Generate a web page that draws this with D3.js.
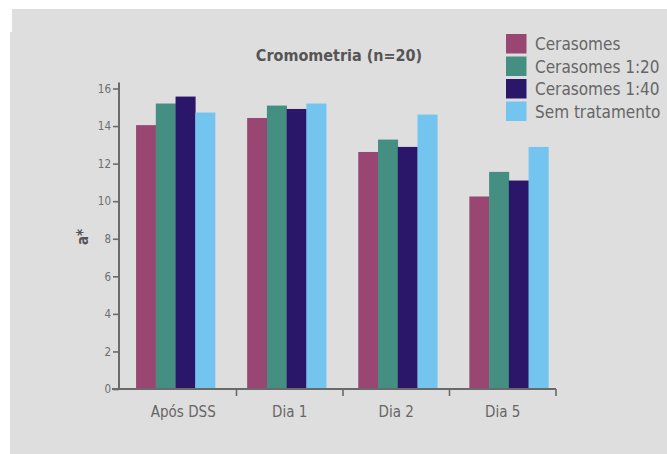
<!DOCTYPE html>
<html><head><meta charset="utf-8">
<script src="https://cdn.jsdelivr.net/npm/d3@7/dist/d3.min.js"></script>
<style>body{margin:0;background:#fff}svg{display:block}text{font-family:"DejaVu Sans Condensed","DejaVu Sans",sans-serif}</style>
</head><body>
<svg id="c" width="667" height="454"></svg>
<script>
const categories = ["Após DSS", "Dia 1", "Dia 2", "Dia 5"];
const seriesNames = ["Cerasomes", "Cerasomes 1:20", "Cerasomes 1:40", "Sem tratamento"];
const cerasomes = [14.05, 14.43, 12.62, 10.25];
const cerasomes120 = [15.2, 15.09, 13.28, 11.56];
const cerasomes140 = [15.57, 14.91, 12.89, 11.10];
const semTratamento = [14.72, 15.2, 14.61, 12.89];
const yTicks = [0, 2, 4, 6, 8, 10, 12, 14, 16];
const colors = ["#9a4673", "#448f82", "#2b1769", "#73c5f0"];
const series = [cerasomes, cerasomes120, cerasomes140, semTratamento];

const svg = d3.select("#c");
// background panel
svg.append("rect").attr("x", 12).attr("y", 9).attr("width", 655).attr("height", 30).attr("fill", "#dedede");
svg.append("rect").attr("x", 10).attr("y", 32).attr("width", 657).attr("height", 422).attr("fill", "#dedede");

const y = d3.scaleLinear().domain([0, 16]).range([389, 88.5]);
const xBars = d3.scaleBand().domain(categories).range([120, 564.4]).paddingInner(0.289).paddingOuter(0.1445);
const xSub = d3.scaleBand().domain(d3.range(seriesNames.length)).range([0, xBars.bandwidth()]);
const xAxisScale = d3.scaleBand().domain(categories).range([130, 556]);

// bars
const g = svg.append("g");
categories.forEach((c, i) => {
  series.forEach((s, j) => {
    g.append("rect")
      .attr("x", xBars(c) + xSub(j))
      .attr("y", y(s[i]))
      .attr("width", xSub.bandwidth() + 0.3)
      .attr("height", y(0) - y(s[i]))
      .attr("fill", colors[j]);
  });
});

const axisColor = "#6a6a6a";
// y axis
const yAxis = svg.append("g").attr("transform", "translate(119,0)")
  .call(d3.axisLeft(y).tickValues(yTicks).tickSize(6).tickSizeOuter(0).tickPadding(2));
yAxis.select(".domain").attr("stroke", axisColor).attr("stroke-width", 2).attr("d", "M0," + (y(16) - 6) + "V" + y(0));
yAxis.selectAll(".tick line").attr("stroke", axisColor).attr("stroke-width", 1.6);
yAxis.selectAll(".tick text").attr("fill", "#6e6e6e").style("font-size", "11.5px").style("font-family", "'DejaVu Sans Condensed',sans-serif");

// x axis
const xg = svg.append("g").attr("transform", "translate(0," + y(0) + ")");
xg.append("line").attr("x1", 112).attr("x2", xAxisScale.range()[1]).attr("y1", 0).attr("y2", 0)
  .attr("stroke", axisColor).attr("stroke-width", 2);
categories.forEach((c) => {
  const xr = xAxisScale(c) + xAxisScale.bandwidth();
  xg.append("line").attr("x1", xr).attr("x2", xr).attr("y1", 0).attr("y2", 7)
    .attr("stroke", axisColor).attr("stroke-width", 1.6);
  xg.append("text").attr("x", xAxisScale(c) + xAxisScale.bandwidth() / 2).attr("y", 28)
    .attr("text-anchor", "middle").attr("fill", "#666").style("font-size", "15px").text(c);
});

// y label
svg.append("text").attr("transform", "translate(88,237) rotate(-90)").attr("text-anchor", "middle")
  .attr("fill", "#555").style("font-size", "15px").style("font-weight", "bold").text("a*");

// title
svg.append("text").attr("x", 339).attr("y", 61).attr("text-anchor", "middle")
  .attr("fill", "#555").style("font-size", "16px").style("font-weight", "bold").text("Cromometria (n=20)");

// legend
const lg = svg.append("g");
seriesNames.forEach((n, j) => {
  const yy = 34 + j * 22.5;
  lg.append("rect").attr("x", 506).attr("y", yy).attr("width", 20.5).attr("height", 19.5).attr("fill", colors[j]);
  lg.append("text").attr("x", 535).attr("y", yy + 16).attr("fill", "#666").style("font-size", "17px").text(n);
});
</script>
</body></html>
